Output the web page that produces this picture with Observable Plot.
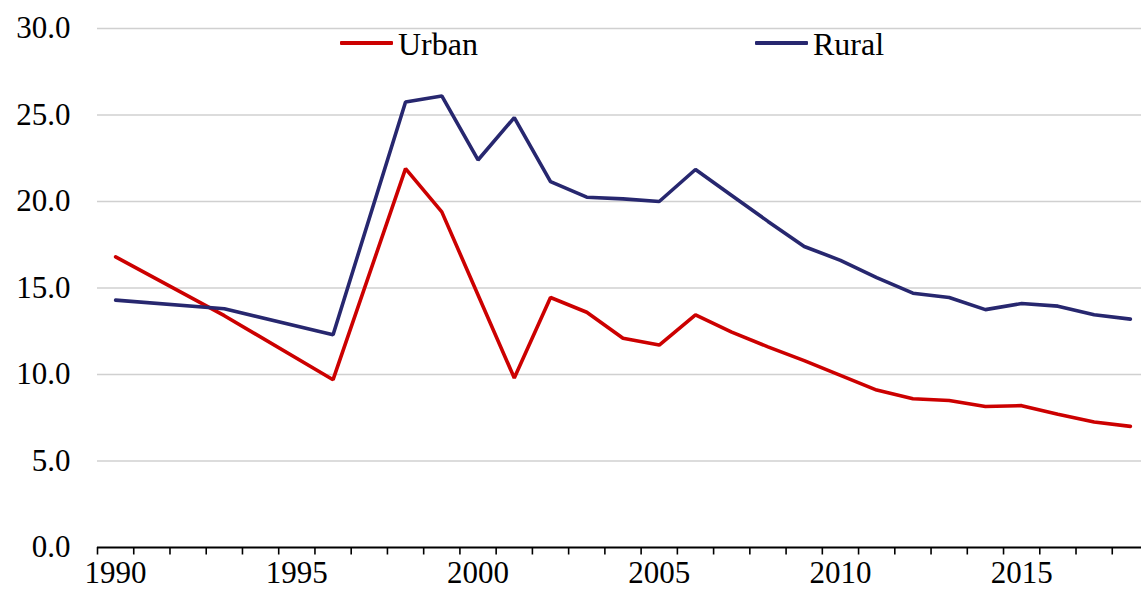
<!DOCTYPE html>
<html>
<head>
<meta charset="utf-8">
<script src="https://cdn.jsdelivr.net/npm/d3@7"></script>
<script src="https://cdn.jsdelivr.net/npm/@observablehq/plot@0.6"></script>
<style>
  html, body { margin: 0; padding: 0; background: #fff; overflow: hidden; }
  #wrap { position: relative; width: 1141px; height: 589px; font-family: "Liberation Serif", "Times New Roman", serif; }
  .leg { position: absolute; top: 28.2px; display: flex; align-items: flex-start; font-size: 32px; line-height: 32px; color: #000; }
  .leg .sw { display: inline-block; width: 53px; height: 4px; margin-top: 12.8px; margin-right: 5px; border-radius: 1px; }
</style>
</head>
<body>
<div id="wrap"></div>
<script>
const years = [1990, 1993, 1996, 1998, 1999, 2000, 2001, 2002, 2003, 2004, 2005, 2006, 2007, 2008, 2009, 2010, 2011, 2012, 2013, 2014, 2015, 2016, 2017, 2018];
const urban = [16.8, 13.4, 9.7, 21.9, 19.4, 14.6, 9.8, 14.45, 13.6, 12.1, 11.7, 13.45, 12.45, 11.6, 10.8, 9.95, 9.1, 8.6, 8.5, 8.15, 8.2, 7.7, 7.25, 7.0];
const rural = [14.3, 13.8, 12.3, 25.75, 26.1, 22.4, 24.85, 21.15, 20.25, 20.15, 20.0, 21.85, 20.35, 18.85, 17.4, 16.6, 15.6, 14.7, 14.45, 13.75, 14.1, 13.95, 13.45, 13.2];
const seriesNames = ["Urban", "Rural"];
const seriesColors = ["#CC0000", "#27276F"];
const xLabelYears = [1990, 1995, 2000, 2005, 2010, 2015];
const yTicks = [0, 5, 10, 15, 20, 25, 30];

const data = [];
years.forEach((yr, i) => {
  data.push({year: yr, value: urban[i], series: "Urban"});
  data.push({year: yr, value: rural[i], series: "Rural"});
});
const boundaries = d3.range(years[0] - 0.5, years[years.length - 1] + 1, 1);

const chart = Plot.plot({
  width: 1141,
  height: 589,
  marginTop: 28,
  marginBottom: 42,
  marginLeft: 97,
  marginRight: 0,
  style: {fontFamily: "Liberation Serif, 'Times New Roman', serif", fontSize: "31px", color: "#000", background: "#fff", overflow: "hidden"},
  x: {domain: [1989.5, 2018.5], range: [97, 1148]},
  y: {domain: [0, 30]},
  color: {domain: seriesNames, range: seriesColors},
  marks: [
    Plot.gridY(yTicks.filter(d => d > 0), {stroke: "#d0d0d0", strokeOpacity: 1, strokeWidth: 1.6}),
    Plot.axisY(yTicks, {tickSize: 0, tickPadding: 27, tickFormat: d3.format(".1f"), label: null}),
    Plot.axisX(boundaries, {tickSize: 7.5, stroke: "#000", strokeWidth: 1.6, tickFormat: () => "", label: null}),
    Plot.axisX(xLabelYears, {tickSize: 0, tickPadding: 13, tickFormat: d => String(d), label: null}),
    Plot.ruleY([0], {stroke: "#000", strokeWidth: 2}),
    Plot.line(data, {x: "year", y: "value", z: "series", stroke: "series", strokeWidth: 3.6, strokeLinejoin: "miter"})
  ]
});

const wrap = document.getElementById("wrap");
wrap.appendChild(chart);

const legendLeft = [340, 755];
seriesNames.forEach((name, i) => {
  const item = document.createElement("div");
  item.className = "leg";
  item.style.left = legendLeft[i] + "px";
  const sw = document.createElement("span");
  sw.className = "sw";
  sw.style.background = seriesColors[i];
  const t = document.createElement("span");
  t.textContent = name;
  item.appendChild(sw);
  item.appendChild(t);
  wrap.appendChild(item);
});
</script>
</body>
</html>
